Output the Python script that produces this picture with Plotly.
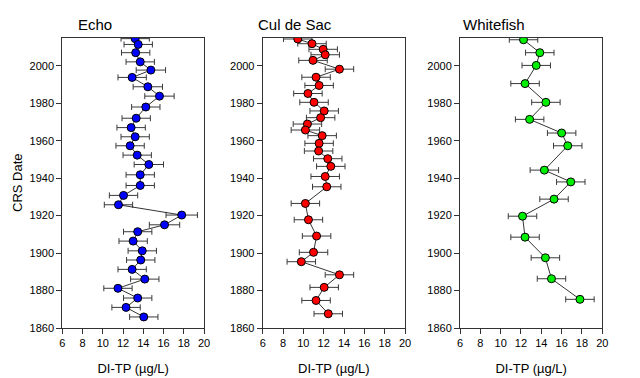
import plotly.graph_objects as go

# ---- Data ----
echo_year = [2014.5, 2011.4, 2007.0, 2002.1, 1997.7, 1993.8, 1988.8, 1983.8, 1978.0, 1972.0,
             1967.0, 1962.1, 1957.3, 1952.3, 1947.3, 1941.8, 1936.1, 1930.8, 1925.8, 1920.3,
             1915.1, 1911.4, 1906.4, 1901.2, 1896.3, 1891.3, 1886.1, 1881.2, 1876.0, 1871.0, 1865.9]
echo_tp = [13.2, 13.5, 13.25, 13.7, 14.75, 12.9, 14.45, 15.6, 14.25, 13.3,
           12.8, 13.2, 12.7, 13.4, 14.55, 13.7, 13.7, 12.05, 11.55, 17.8,
           16.1, 13.45, 13.0, 13.9, 13.75, 12.9, 14.15, 11.5, 13.45, 12.3, 14.05]
echo_err = [1.4, 1.4, 1.4, 1.4, 1.45, 1.4, 1.45, 1.45, 1.4, 1.4,
            1.4, 1.4, 1.4, 1.4, 1.45, 1.4, 1.4, 1.4, 1.4, 1.55,
            1.5, 1.4, 1.4, 1.4, 1.4, 1.4, 1.4, 1.4, 1.4, 1.4, 1.4]

cul_year = [2014.3, 2011.8, 2008.8, 2005.9, 2002.9, 1998.2, 1993.9, 1989.5, 1985.2, 1980.5,
            1975.9, 1972.3, 1968.9, 1965.7, 1962.7, 1958.6, 1954.5, 1950.4, 1946.3, 1940.9,
            1935.4, 1926.5, 1917.8, 1909.1, 1900.4, 1895.4, 1888.4, 1881.7, 1874.7, 1867.6]
cul_tp = [9.45, 10.85, 11.95, 12.15, 10.95, 13.55, 11.25, 11.55, 10.45, 11.05,
          12.05, 11.7, 10.4, 10.2, 11.85, 11.55, 11.5, 12.4, 12.7, 12.15,
          12.3, 10.2, 10.5, 11.3, 11.0, 9.8, 13.55, 12.05, 11.25, 12.45]
cul_err = [1.4] * 30

white_year = [2013.9, 2007.0, 2000.2, 1990.5, 1980.5, 1971.4, 1964.1, 1957.3, 1944.3, 1938.0,
              1928.8, 1919.7, 1908.5, 1897.5, 1886.3, 1875.3]
white_tp = [12.25, 13.85, 13.5, 12.4, 14.45, 12.85, 16.0, 16.6, 14.3, 16.9,
            15.25, 12.15, 12.4, 14.4, 15.0, 17.8]
white_err = [1.4] * 16

lakes = ["Echo", "Cul de Sac", "Whitefish"]
colors = ["#0000FF", "#FF0000", "#00EE00"]
x_ticks = [6, 8, 10, 12, 14, 16, 18, 20]
y_ticks = [1860, 1880, 1900, 1920, 1940, 1960, 1980, 2000]

OFF = 8  # page body margin
W, H = 640 - OFF, 378 - OFF
panels_px = [(62.3, 204.0), (262.7, 405.0), (460.0, 602.3)]
title_px = [76, 256, 461]
top_px, bot_px = 37.7, 328.0

FONT = "Liberation Sans, Arial, sans-serif"

fig = go.Figure()
datasets = [(echo_tp, echo_year, echo_err), (cul_tp, cul_year, cul_err), (white_tp, white_year, white_err)]

for i, ((xs, ys, es), col) in enumerate(zip(datasets, colors)):
    n = "" if i == 0 else str(i + 1)
    fig.add_trace(go.Scatter(
        x=xs, y=ys, mode="lines+markers",
        line=dict(color="black", width=0.8),
        marker=dict(size=8, color=col, line=dict(color="black", width=1)),
        error_x=dict(type="data", array=es, visible=True, color="#3a3a3a", thickness=1, width=3),
        xaxis="x" + n, yaxis="y" + n, showlegend=False,
    ))
    l, r = panels_px[i]
    axis_common = dict(showline=True, linecolor="#333333", linewidth=1, mirror=True,
                       ticks="outside", ticklen=5, tickcolor="#333333", showgrid=False,
                       zeroline=False, tickfont=dict(family=FONT, size=11, color="black"),
                       automargin=False)
    fig.update_layout(**{
        "xaxis" + n: dict(domain=[(l - OFF) / W, (r - OFF) / W], range=[6, 20], tickvals=x_ticks,
                          anchor="y" + n,
                          title=dict(text="DI-TP (µg/L)", font=dict(family=FONT, size=13, color="black"),
                                     standoff=15),
                          **axis_common),
        "yaxis" + n: dict(domain=[1 - (bot_px - OFF) / H, 1 - (top_px - OFF) / H], range=[1860, 2015],
                          tickvals=y_ticks, anchor="x" + n,
                          **axis_common),
    })
    fig.add_annotation(text=lakes[i], xref="paper", yref="paper", x=(title_px[i] - OFF) / W,
                       y=1 - (25 - OFF) / H, xanchor="left", yanchor="middle", showarrow=False,
                       font=dict(family=FONT, size=15, color="black"))

# y-axis title of first panel
fig.add_annotation(text="CRS Date", xref="paper", yref="paper", x=(17 - OFF) / W,
                   y=1 - (183 - OFF) / H, xanchor="center", yanchor="middle", textangle=-90,
                   showarrow=False, font=dict(family=FONT, size=13, color="black"))

fig.update_layout(width=W, height=H, margin=dict(l=0, r=0, t=0, b=0),
                  paper_bgcolor="white", plot_bgcolor="white")
fig.write_html("out.html")
